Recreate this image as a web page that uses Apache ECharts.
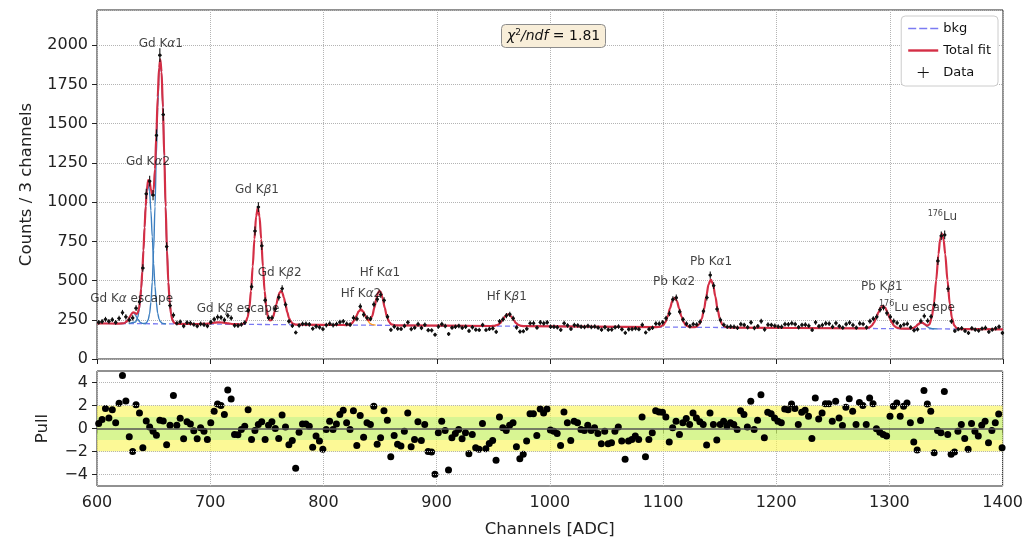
<!DOCTYPE html>
<html>
<head>
<meta charset="utf-8">
<title>X-ray spectrum fit</title>
<script src="https://cdn.jsdelivr.net/npm/echarts@6.0.0/dist/echarts.min.js"></script>
<style>
  html, body { margin: 0; padding: 0; background: #fff; }
  #chart { width: 1026px; height: 541px; }
</style>
</head>
<body>
<div id="chart"></div>
<script>
  const FONT = 'DejaVu Sans'

  // histogram: 3-channel bins starting at channel 600
  const binStart = 601.5
  const binWidth = 3
  const counts = [
    233, 239, 253, 240, 251, 233, 259, 296, 269, 249,
    262, 324, 365, 580, 1053, 1134, 1045, 1426, 1937, 1558,
    717, 341, 280, 228, 237, 210, 232, 229, 220, 210,
    224, 219, 211, 235, 254, 267, 265, 249, 277, 261,
    214, 213, 220, 232, 310, 461, 816, 969, 722, 375,
    263, 263, 321, 393, 449, 347, 240, 212, 169, 214,
    224, 224, 221, 194, 208, 202, 191, 216, 226, 216,
    223, 235, 240, 224, 219, 263, 256, 335, 283, 263,
    257, 348, 381, 411, 374, 270, 186, 207, 194, 192,
    211, 234, 191, 200, 222, 198, 218, 184, 183, 155,
    207, 222, 210, 160, 200, 206, 211, 199, 206, 179,
    203, 187, 185, 217, 185, 192, 195, 173, 240, 253,
    277, 285, 259, 201, 175, 177, 193, 228, 228, 200,
    233, 227, 233, 206, 205, 202, 186, 228, 214, 192,
    216, 214, 206, 204, 211, 204, 207, 200, 187, 203,
    187, 188, 202, 207, 189, 167, 189, 191, 195, 190,
    218, 169, 190, 199, 226, 225, 234, 260, 290, 380,
    391, 302, 252, 225, 209, 222, 220, 237, 305, 392,
    535, 468, 318, 249, 218, 205, 207, 205, 199, 222,
    217, 202, 233, 198, 209, 241, 188, 219, 217, 212,
    207, 205, 222, 221, 228, 222, 203, 217, 219, 212,
    185, 234, 209, 216, 227, 226, 205, 229, 209, 200,
    222, 232, 216, 200, 227, 223, 201, 241, 257, 269,
    315, 328, 293, 269, 242, 230, 209, 220, 224, 201,
    183, 189, 242, 274, 244, 271, 345, 625, 785, 791,
    448, 240, 179, 190, 196, 179, 166, 196, 187, 181,
    194, 199, 173, 187, 196, 206, 166
  ]

  const pulls = [
    0.43, 0.78, 1.73, 0.92, 1.64, 0.49, 2.2, 4.6, 2.39, -0.72,
    -1.99, 2.07, 1.35, -1.67, 0.66, 0.14, -0.23, -0.58, 0.72, 0.66,
    -1.41, 0.29, 2.88, 0.29, 0.89, -0.89, 0.58, 0.4, -0.2, -0.89,
    0.06, -0.23, -0.95, 0.49, 1.5, 2.13, 2.01, 1.21, 3.34, 2.56,
    -0.52, -0.55, -0.09, 0.2, 1.64, -0.95, -0.17, 0.35, 0.58, -0.95,
    0.29, 0.58, 0, -0.86, 1.18, 0.12, -1.41, -1.04, -3.45, -0.32,
    0.4, 0.4, 0.2, -1.64, -0.66, -1.09, -1.81, -0.09, 0.63, -0.09,
    0.4, 1.21, 1.58, 0.49, -0.09, 1.55, -1.47, 1.12, -0.75, 0.49,
    0.35, 1.93, -1.38, -0.81, 1.55, 0.72, -2.45, -0.6, -1.38, -1.53,
    -0.23, 1.35, -1.58, -0.95, 0.58, -1.04, 0.35, -1.99, -2.04, -3.97,
    -0.37, 0.63, -0.17, -3.6, -0.81, -0.43, -0.09, -0.89, -0.37, -2.19,
    -0.52, -1.67, -1.81, 0.43, -1.76, -1.3, -1.04, -2.76,
    1.01, 0.06, -0.17, 0.29, 0.49, -1.58, -2.62, -2.24, -1.09, 1.29,
    1.29, -0.6, 1.7, 1.35, 1.7, -0.14, -0.23, -0.43, -1.47, 1.44,
    0.49, -1.04, 0.63, 0.49, -0.09, -0.17, 0.29, -0.17, 0.06, -0.43,
    -1.32, -0.23, -1.32, -1.24, -0.23, 0.12, -1.09, -2.68, -1.09, -0.95,
    -0.66, -0.95, 1.01, -2.45, -0.95, -0.37, 1.55, 1.44, 1.41, 1.01,
    -1.18, 0.06, 0.63, -0.52, 0.49, 0.86, 0.35, 1.35, 0.92, 0.58,
    0.35, -1.44, 1.35, 0.35, -1.01, 0.35, 0.63, 0.2, 0.49, 0.35,
    -0.09, 1.55, 1.21, 0.14, 2.36, -0.09, 0.72, 2.94, -0.81, 1.41,
    1.29, 0.92, 0.63, 0.49, 1.7, 1.64, 2.13, 1.73, 0.35, 1.41,
    1.58, 1.06, -0.86, 2.65, 0.83, 1.35, 2.16, 2.16, 0.63, 2.36,
    0.92, 0.26, 1.84, 2.59, 1.5, 0.35, 2.27, 2.01, 0.35, 2.65,
    2.16, -0.03, -0.32, -0.52, -0.66, 1.06, 1.93, 2.22, 1.06, 1.93,
    2.22, 0.49, -1.18, -1.87, 0.69, 3.31, 2.13, 1.5, -2.11, -0.17,
    -0.37, 3.22, -0.52, -2.24, -2.04, -0.23, 0.35, -0.86, -1.81, 0.43,
    -0.23, -0.66, 0.29, 0.63, -1.24, -0.17, 0.49, 1.27, -1.67
  ]

  // fitted curves as [channel, counts]
  const bkgPoints = [[600, 227], [1400, 189]]
  const fitPoints = [
    [600, 227], [618, 226.1], [620, 226], [624, 228], [627, 243], [629, 268], [630, 281.6], [631, 291.6],
    [632, 297], [633, 295.5], [634, 291.4], [635, 287.9], [636, 294.4], [637, 319.2], [638, 368.8], [639, 449],
    [640, 559], [641, 692], [642, 838.5], [643, 975], [644, 1079.5], [645.2, 1140.5], [646.4, 1131.8],
    [647.6, 1081.2], [648.8, 1044.7], [650, 1076.6], [651.2, 1209.6], [652.4, 1427.6], [653.6, 1670.5],
    [654.8, 1855.4], [655.9, 1911], [657, 1830.6], [658.2, 1604.6], [659.4, 1293.3], [660.6, 970.2],
    [661.8, 692.2], [663, 490], [664.2, 359.5], [665.4, 286], [666.6, 249.6], [668, 232], [670, 224.9], [673, 223.5],
    [690, 222.8], [696, 224.1], [700, 227.5], [704, 231.9], [708, 234], [712, 231.5], [716, 226.7], [720, 222.9], [726, 221],
    [728, 221], [731, 232], [733, 265], [734.5, 327], [736, 434], [737.5, 590], [739, 765], [740.5, 909], [742, 965],
    [743.5, 909], [745, 765], [746.5, 590], [748, 434], [749.5, 328], [751, 268], [752.5, 246], [754, 248],
    [755.5, 268], [757, 305], [758.5, 352], [760, 398], [761.2, 424], [762.4, 433], [763.6, 424], [765, 392],
    [766.5, 345], [768, 299], [769.5, 263], [771, 240], [773, 225], [776, 219],
    [815, 216.8], [820, 216.6], [823, 220], [825, 227], [827, 245], [829, 274], [831, 303], [833, 316], [835, 303],
    [837, 275], [839, 250], [841, 247], [843, 273], [845, 329], [846.8, 388], [848.2, 423], [849.5, 435],
    [850.8, 423], [852.2, 388], [854, 328], [856, 270], [858, 235], [860, 221], [863, 215],
    [948, 210.5], [951, 211.5], [954, 217.7], [956, 228.8], [958, 247], [960, 268], [961.5, 280], [963, 285],
    [964.5, 280], [966, 268], [968, 247], [970, 228.5], [972, 217], [975, 211], [978, 209],
    [1094, 203.6], [1097, 205.5], [1100, 215.8], [1102, 236], [1104, 273], [1106, 324], [1108, 371], [1110, 390],
    [1112, 371], [1114, 323], [1116, 272], [1118, 235], [1120, 215], [1123, 204.5], [1126, 202.3], [1129, 205],
    [1132, 222], [1134, 255.5], [1136, 316.5], [1138, 400], [1140, 476], [1142, 507], [1144, 476], [1146, 400],
    [1148, 316], [1150, 255], [1152, 221], [1155, 204], [1158, 200.3],
    [1276, 194.9], [1279, 195.8], [1282, 201], [1284, 211], [1286, 230.6], [1288, 260.5], [1290, 297], [1292, 327],
    [1294, 339], [1296, 327], [1298, 297], [1300, 260], [1302, 230], [1304, 210.5], [1306, 200], [1309, 194.5],
    [1312, 193.3], [1315, 193.2], [1318, 193.6], [1321, 198.1], [1323, 207], [1325, 220.2], [1327, 230.9],
    [1328, 232.4], [1329, 230.7], [1331, 221.3], [1333, 212.5], [1335, 220.1], [1337, 261.2], [1339, 353],
    [1341, 501.8], [1343, 667.6], [1344.5, 763.7], [1346, 799.6], [1347.5, 763.6], [1349, 667.4], [1351, 501.3],
    [1353, 352], [1355, 259], [1357, 213.8], [1359, 197], [1362, 191], [1400, 189]
  ]

  // single-peak components (with background) that show apart from the total
  const compGdKaEsc = [
    [620, 226], [624, 228], [626, 235.3], [628, 254.5], [630, 281.6], [631, 291.6], [632, 295.6], [633, 291.5],
    [634, 281.4], [635, 268], [636, 254.4], [638, 235], [640, 227], [643, 225]
  ]
  const compGdKa2 = [
    [628, 225.7], [634, 235.5], [636, 265.4], [637, 302], [638, 359.3], [639, 444.2], [640, 557.1], [641, 692],
    [642, 837], [643, 971], [644, 1070], [645.2, 1115], [646.4, 1070], [647.6, 946], [648.8, 779], [650, 608.6],
    [651.2, 463.6], [652.4, 358.6], [653.6, 292], [654.8, 254.4], [656, 237.3], [658, 226.5], [661, 224.2]
  ]
  const compGdKa1 = [
    [641, 225.6], [643, 229], [644, 234], [645.2, 250.4], [646.4, 286.8], [647.6, 360.3], [648.8, 490.7],
    [650, 692.6], [651.2, 970.6], [652.4, 1293.5], [653.6, 1603], [654.8, 1825.4], [655.9, 1897.3], [657, 1825.3],
    [658.2, 1602.8], [659.4, 1293.3], [660.6, 970.2], [661.8, 692.2], [663, 490], [664.2, 359.5], [665.4, 286],
    [666.6, 249.6], [668, 232], [670, 224.9], [673, 223.5]
  ]
  const compHfKa2 = [
    [820, 216.6], [823, 219], [825, 227], [827, 245], [829, 274], [831, 303], [833, 316], [835, 303], [837, 274],
    [839, 245], [841, 227], [843, 219], [846, 216]
  ]
  const compLuEsc = [
    [1312, 193.2], [1318, 193.6], [1321, 198], [1323, 207], [1325, 220], [1327, 231], [1328, 232.4], [1329, 231],
    [1331, 220], [1333, 206.5], [1335, 197.5], [1338, 192.5], [1342, 192]
  ]

  // peak names and where their labels sit
  const peakNames = [
    'Gd Kα escape', 'Gd Kα2', 'Gd Kα1', 'Gd Kβ escape', 'Gd Kβ1', 'Gd Kβ2', 'Hf Kα2', 'Hf Kα1',
    'Hf Kβ1', 'Pb Kα2', 'Pb Kα1', 'Pb Kβ1', '176Lu escape', '176Lu'
  ]
  const labelChannels = [630.6, 645, 656.3, 724.5, 741.3, 761.3, 833.1, 849.9, 961.8, 1109.5, 1142.2, 1293, 1324, 1346.5]
  const labelCounts = [381, 1255, 2006, 317, 1079, 550, 415, 550, 397, 493, 618, 459, 326, 905]

  const chi2ndf = 1.81

  const channels = counts.map(function (c, i) {
    return binStart + i * binWidth
  })

  function richName(name) {
    var s = name
    var out = ''
    if (s.indexOf('176') === 0) {
      out += '{sup|176}'
      s = s.slice(3)
    }
    for (var k = 0; k < s.length; k++) {
      var ch = s[k]
      if (ch === 'α' || ch === 'β') out += '{g|' + ch + '}'
      else out += '{t|' + ch + '}'
    }
    return out
  }

  function plainFmt(v) {
    return v < 0 ? '\u2212' + Math.abs(v) : String(v)
  }

  function renderData(params, api) {
    var x = api.value(0)
    var y = api.value(1)
    var err = Math.sqrt(y)
    var c = api.coord([x, y])
    var top = api.coord([x, y + err])
    var bot = api.coord([x, y - err])
    var l = api.coord([x - binWidth / 2, y])
    var r = api.coord([x + binWidth / 2, y])
    var st = { stroke: '#111', lineWidth: 1.1 }
    return {
      type: 'group',
      children: [
        { type: 'line', shape: { x1: c[0], y1: top[1], x2: c[0], y2: bot[1] }, style: st },
        { type: 'line', shape: { x1: l[0], y1: c[1], x2: r[0], y2: c[1] }, style: st },
        { type: 'circle', shape: { cx: c[0], cy: c[1], r: 1.6 }, style: { fill: '#111' } },
      ],
    }
  }

  var tickStyle = { color: '#222', width: 1 }
  var gridLine = { type: 'dotted', color: '#b4b4b4', width: 1 }
  var compLine = function (name, data, color) {
    return {
      name: name,
      type: 'line',
      data: data,
      showSymbol: false,
      smooth: 0.3,
      smoothMonotone: 'x',
      silent: true,
      z: 2,
      lineStyle: { color: color, width: 1.4 },
      itemStyle: { color: color },
    }
  }

  var chart = echarts.init(document.getElementById('chart'))
  var option = {
    animation: false,
    textStyle: { fontFamily: FONT },
    title: {
      text: '{i|χ}{sup|2}{i|/ndf}{n| = ' + chi2ndf + '}',
      left: 501,
      top: 24,
      padding: [4, 6, 4, 6],
      backgroundColor: '#f8eed9',
      borderColor: '#8c8c8c',
      borderWidth: 1,
      borderRadius: 4,
      textStyle: {
        fontWeight: 'normal',
        rich: {
          i: { fontFamily: FONT, fontStyle: 'italic', fontWeight: 'normal', fontSize: 14, color: '#111', lineHeight: 17 },
          n: { fontFamily: FONT, fontWeight: 'normal', fontSize: 14, color: '#111', lineHeight: 17 },
          sup: { fontFamily: FONT, fontWeight: 'normal', fontSize: 9, color: '#111', verticalAlign: 'top', lineHeight: 17 },
        },
      },
    },
    legend: {
      orient: 'vertical',
      right: 28,
      top: 16,
      padding: [6, 7, 7, 7],
      itemGap: 9,
      itemWidth: 30,
      itemHeight: 11,
      backgroundColor: '#fff',
      borderColor: '#cccccc',
      borderWidth: 1,
      borderRadius: 4,
      selectedMode: false,
      textStyle: { fontFamily: FONT, fontSize: 13, color: '#111' },
      data: [
        { name: 'bkg', icon: 'path://M0,4.2H8V5.8H0Z M11,4.2H19V5.8H11Z M22,4.2H30V5.8H22Z' },
        { name: 'Total fit', icon: 'path://M0,3.8H30V6.2H0Z' },
        { name: 'Data', icon: 'path://M9.2,0H10.8V20H9.2Z M0,9.2H20V10.8H0Z' },
      ],
    },
    grid: [
      { left: 97, right: 23, top: 10, height: 349, show: true, borderColor: '#222', borderWidth: 1 },
      { left: 97, right: 23, top: 371, height: 115, show: true, borderColor: '#222', borderWidth: 1 },
    ],
    xAxis: [
      {
        gridIndex: 0,
        type: 'value',
        min: 600,
        max: 1400,
        interval: 100,
        axisLine: { show: false },
        axisTick: { show: true, length: 5, lineStyle: tickStyle },
        axisLabel: { show: false },
        splitLine: { show: true, lineStyle: gridLine },
      },
      {
        gridIndex: 1,
        type: 'value',
        min: 600,
        max: 1400,
        interval: 100,
        axisLine: { show: false },
        axisTick: { show: true, length: 5, lineStyle: tickStyle },
        axisLabel: { fontFamily: FONT, fontSize: 16, color: '#222', margin: 9, formatter: plainFmt },
        splitLine: { show: true, lineStyle: gridLine },
        name: 'Channels [ADC]',
        nameLocation: 'middle',
        nameGap: 35,
        nameTextStyle: { fontFamily: FONT, fontSize: 16.5, color: '#222' },
      },
    ],
    yAxis: [
      {
        gridIndex: 0,
        type: 'value',
        min: 0,
        max: 2225,
        interval: 250,
        axisLine: { show: false },
        axisTick: { show: true, length: 5, lineStyle: tickStyle },
        axisLabel: { fontFamily: FONT, fontSize: 16, color: '#222', margin: 9, showMaxLabel: false, formatter: plainFmt },
        splitLine: { show: true, lineStyle: gridLine },
        name: 'Counts / 3 channels',
        nameLocation: 'middle',
        nameGap: 62,
        nameRotate: 90,
        nameTextStyle: { fontFamily: FONT, fontSize: 16.5, color: '#222' },
      },
      {
        gridIndex: 1,
        type: 'value',
        min: -5,
        max: 5,
        interval: 1,
        axisLine: { show: false },
        axisTick: { show: true, length: 5, lineStyle: tickStyle, customValues: [-4, -2, 0, 2, 4] },
        axisLabel: {
          fontFamily: FONT,
          fontSize: 16,
          color: '#222',
          margin: 9,
          customValues: [-4, -2, 0, 2, 4],
          formatter: plainFmt,
        },
        splitLine: { show: false },
        name: 'Pull',
        nameLocation: 'middle',
        nameGap: 46,
        nameRotate: 90,
        nameTextStyle: { fontFamily: FONT, fontSize: 16.5, color: '#222' },
      },
    ],
    series: [
      {
        name: 'bkg',
        type: 'line',
        data: bkgPoints,
        showSymbol: false,
        silent: true,
        z: 2,
        lineStyle: { color: '#7b7bf2', width: 1.3, type: [5, 3] },
        itemStyle: { color: '#7b7bf2' },
      },
      compLine('Gd Kα escape comp', compGdKaEsc, '#3d7fc0'),
      compLine('Gd Kα2 comp', compGdKa2, '#3d7fc0'),
      compLine('Gd Kα1 comp', compGdKa1, '#3d7fc0'),
      compLine('Hf Kα2 comp', compHfKa2, '#ff9a1f'),
      compLine('176Lu escape comp', compLuEsc, '#3d7fc0'),
      {
        name: 'Total fit',
        type: 'line',
        data: fitPoints,
        showSymbol: false,
        smooth: 0.3,
        smoothMonotone: 'x',
        silent: true,
        z: 3,
        lineStyle: { color: '#d42e45', width: 2.2 },
        itemStyle: { color: '#d42e45' },
      },
      {
        name: 'Data',
        type: 'custom',
        renderItem: renderData,
        data: channels.map(function (x, i) {
          return [x, counts[i]]
        }),
        encode: { x: 0, y: 1 },
        z: 4,
        silent: true,
        itemStyle: { color: '#111' },
      },
      {
        name: 'peak labels',
        type: 'scatter',
        symbolSize: 1,
        silent: true,
        z: 5,
        itemStyle: { color: 'rgba(0,0,0,0)' },
        data: labelChannels.map(function (x, i) {
          return [x, labelCounts[i], peakNames[i]]
        }),
        label: {
          show: true,
          position: 'inside',
          formatter: function (p) {
            return richName(p.value[2])
          },
          rich: {
            t: { fontFamily: FONT, fontSize: 12, color: '#111', lineHeight: 15 },
            g: { fontFamily: FONT, fontSize: 12, fontStyle: 'italic', color: '#111', lineHeight: 15 },
            sup: { fontFamily: FONT, fontSize: 8, color: '#111', verticalAlign: 'top', lineHeight: 15 },
          },
        },
      },
      {
        // bands and reference lines of the pull panel, kept under the points
        name: 'pull bands',
        type: 'line',
        xAxisIndex: 1,
        yAxisIndex: 1,
        data: [],
        silent: true,
        z: 1,
        markArea: {
          silent: true,
          data: [
            [{ yAxis: -2, itemStyle: { color: 'rgba(250,245,80,0.6)' } }, { yAxis: 2 }],
            [{ yAxis: -1, itemStyle: { color: 'rgba(150,238,140,0.35)' } }, { yAxis: 1 }],
          ],
        },
        markLine: {
          silent: true,
          symbol: 'none',
          label: { show: false },
          data: [
            { yAxis: -4, lineStyle: gridLine },
            { yAxis: -2, lineStyle: gridLine },
            { yAxis: 2, lineStyle: gridLine },
            { yAxis: 4, lineStyle: gridLine },
            { yAxis: 0, lineStyle: { color: '#555', width: 1.6, type: 'solid' } },
          ],
        },
      },
      {
        name: 'Pull',
        type: 'scatter',
        xAxisIndex: 1,
        yAxisIndex: 1,
        symbolSize: 7,
        silent: true,
        z: 4,
        itemStyle: { color: '#000', opacity: 1 },
        data: channels.map(function (x, i) {
          return [x, pulls[i]]
        }),
      },
    ],
  }
  chart.setOption(option)
</script>
</body>
</html>
